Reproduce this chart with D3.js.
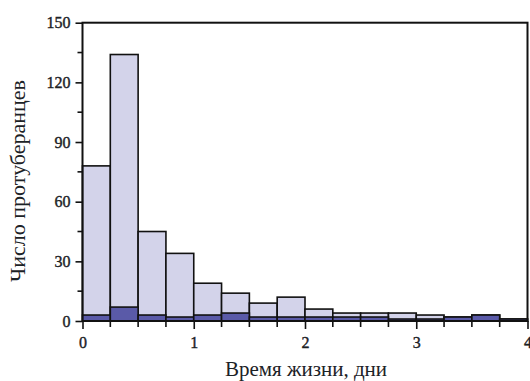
<!DOCTYPE html>
<html><head><meta charset="utf-8">
<script src="https://cdn.jsdelivr.net/npm/d3@7"></script>
<style>body{margin:0;background:#fff}svg{display:block}</style>
</head><body>
<svg id="c" width="530" height="381"></svg>
<script>
// bin starts (days), width 0.25
const binStarts = [0,0.25,0.5,0.75,1,1.25,1.5,1.75,2,2.25,2.5,2.75,3,3.25,3.5,3.75];
const binWidth = 0.25;
const totalCounts = [78,134,45,34,19,14,9,12,6,4,4,4,3,2,3,1];
const subsetCounts = [3,7,3,2,3,4,2,2,2,2,2,1,1,2,3,1];
const xTicks = [0,1,2,3,4];
const yTicks = [0,30,60,90,120,150];
const xLabel = "Время жизни, дни";
const yLabel = "Число протуберанцев";

const svg = d3.select("#c");
const L = 82.5, R = 527.5, T = 22.7, B = 321;
const x = d3.scaleLinear().domain([0,4]).range([L,R]);
const y = d3.scaleLinear().domain([0,150]).range([B,T]);
const font = '"Times New Roman", "Liberation Serif", monospace';
const lightFill = "#d3d3ea", darkFill = "#5a5aa8";

const data = binStarts.map((s,i)=>({s, t: totalCounts[i], d: subsetCounts[i]}));

svg.append("g").selectAll("rect").data(data).join("rect")
  .attr("x", d=>x(d.s)).attr("width", d=>x(d.s+binWidth)-x(d.s))
  .attr("y", d=>y(d.t)).attr("height", d=>y(0)-y(d.t))
  .attr("fill", lightFill).attr("stroke","#111").attr("stroke-width",1.6);
svg.append("g").selectAll("rect").data(data).join("rect")
  .attr("x", d=>x(d.s)).attr("width", d=>x(d.s+binWidth)-x(d.s))
  .attr("y", d=>y(d.d)).attr("height", d=>y(0)-y(d.d))
  .attr("fill", darkFill).attr("stroke","#111").attr("stroke-width",1.6);

svg.append("rect").attr("x",L).attr("y",T).attr("width",R-L).attr("height",B-T)
  .attr("fill","none").attr("stroke","#111").attr("stroke-width",2);

const yMinor = d3.range(15,150,30);
const yAx = svg.append("g").attr("transform",`translate(${L},0)`)
  .call(d3.axisLeft(y).tickValues(yTicks).tickSize(7).tickPadding(5).tickFormat(d3.format("d")));
yAx.select(".domain").remove();
svg.append("g").selectAll("line").data(yMinor).join("line")
  .attr("x1",L-5).attr("x2",L).attr("y1",d=>y(d)).attr("y2",d=>y(d))
  .attr("stroke","#111").attr("stroke-width",1.6);

const xMinor = binStarts.filter(v=>!Number.isInteger(v));
const xAx = svg.append("g").attr("transform",`translate(0,${B})`)
  .call(d3.axisBottom(x).tickValues(xTicks).tickSize(8).tickPadding(8).tickFormat(d3.format("d")));
xAx.select(".domain").remove();
svg.append("g").selectAll("line").data(xMinor).join("line")
  .attr("x1",d=>x(d)).attr("x2",d=>x(d)).attr("y1",B).attr("y2",B+6)
  .attr("stroke","#111").attr("stroke-width",1.6);

[yAx,xAx].forEach(g=>{
  g.attr("font-size",16);
  g.selectAll("line").attr("stroke","#111").attr("stroke-width",1.6);
  g.selectAll("text").style("font-family",font).attr("font-size",16)
    .attr("fill","#1c2226").attr("stroke","#1c2226").attr("stroke-width",0.4);
});

svg.append("text").attr("x",306).attr("y",376).attr("text-anchor","middle")
  .style("font-family",font).attr("font-size",21).attr("fill","#1c2226").text(xLabel);
svg.append("text").attr("transform",`translate(25,181) rotate(-90)`).attr("text-anchor","middle")
  .style("font-family",font).attr("font-size",22).attr("fill","#1c2226").text(yLabel);
</script>
</body></html>
